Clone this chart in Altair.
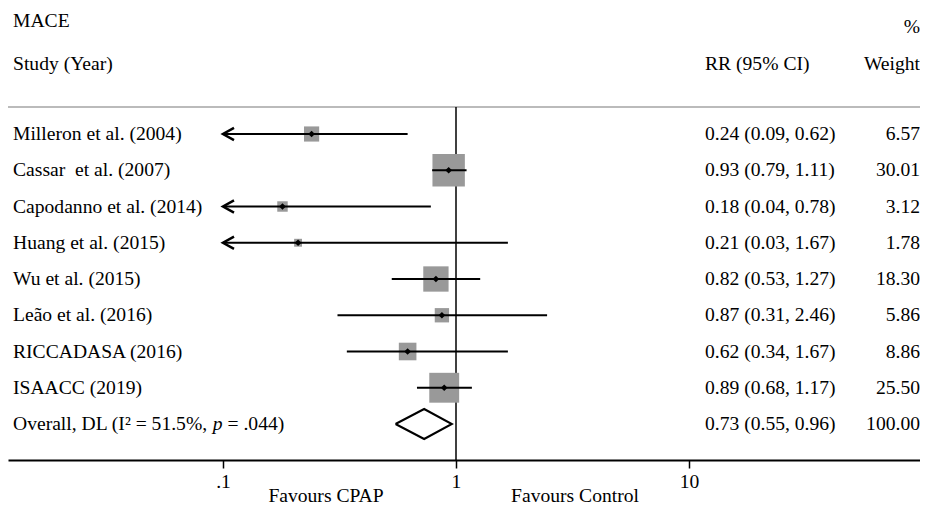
import altair as alt
import pandas as pd

# ---------------- data ----------------
studies = ["Milleron et al. (2004)", "Cassar\u00a0 et al. (2007)", "Capodanno et al. (2014)",
           "Huang et al. (2015)", "Wu et al. (2015)", "Leão et al. (2016)",
           "RICCADASA (2016)", "ISAACC (2019)"]
rr = [0.24, 0.93, 0.18, 0.21, 0.82, 0.87, 0.62, 0.89]
ci_low = [0.09, 0.79, 0.04, 0.03, 0.53, 0.31, 0.34, 0.68]
ci_high = [0.62, 1.11, 0.78, 1.67, 1.27, 2.46, 1.67, 1.17]
weights = [6.57, 30.01, 3.12, 1.78, 18.30, 5.86, 8.86, 25.50]

overall_rr = 0.73
overall_low = 0.55
overall_high = 0.96
overall_weight = 100.00
overall_label = "Overall, DL (I² = 51.5%, "
overall_p_label = "p"
overall_tail = "= .044)"

tick_values = [0.1, 1, 10]
tick_labels = [".1", "1", "10"]
axis_min_value = 0.1  # CIs below this are shown with an arrow

# ---------------- layout ----------------
FONT = "Liberation Serif"
FS = 19.6
W, H = 912, 452
ONE_PX, DECADE_PX = 448, 233
ROW0, ROWSTEP = 126, 36.25

x_scale = alt.Scale(type="log", nice=False,
                    domain=[10 ** (-ONE_PX / DECADE_PX), 10 ** ((W - ONE_PX) / DECADE_PX)])
y_scale = alt.Scale(domain=[-ROW0 / ROWSTEP, (H - ROW0) / ROWSTEP], reverse=True,
                    nice=False, zero=False)

label_expr = " : ".join(
    [f"datum.value == {v} ? '{l}'" for v, l in zip(tick_values, tick_labels)]) + " : ''"
x_axis = alt.Axis(values=tick_values, labelExpr=label_expr, grid=False,
                  domainColor="black", domainWidth=2, tickColor="black", tickWidth=1.5,
                  tickSize=8, labelFont=FONT, labelFontSize=FS, labelColor="black",
                  labelPadding=13, labelBaseline="middle", labelFlush=False,
                  labelOverlap=False, title=None)


def X(field):
    return alt.X(field, type="quantitative", scale=x_scale, axis=x_axis)


def Y(field):
    return alt.Y(field, type="quantitative", scale=y_scale, axis=None)


studies_df = pd.DataFrame({
    "study": studies, "rr": rr, "lo": ci_low, "hi": ci_high, "weight": weights,
    "row": list(range(len(studies))),
})
studies_df["ci_text"] = [f"{a:.2f} ({b:.2f}, {c:.2f})" for a, b, c in zip(rr, ci_low, ci_high)]
studies_df["w_text"] = [f"{w:.2f}" for w in weights]

overall_row = len(studies)
overall_df = pd.DataFrame({
    "row": [overall_row], "label": [overall_label],
    "ci_text": [f"{overall_rr:.2f} ({overall_low:.2f}, {overall_high:.2f})"],
    "w_text": [f"{overall_weight:.2f}"],
})

diamond_df = pd.DataFrame({
    "x": [overall_low, overall_rr, overall_high, overall_rr, overall_low],
    "y": [overall_row, overall_row - 15 / ROWSTEP, overall_row, overall_row + 15 / ROWSTEP, overall_row],
    "order": [0, 1, 2, 3, 4],
})

base = alt.Chart(studies_df)

squares = base.mark_square(color="#999999", opacity=1).transform_calculate(
    area="datum.weight * 35"
).encode(x=X("rr"), y=Y("row"), size=alt.Size("area:Q", scale=None))

ci_lines = base.mark_rule(color="black", strokeWidth=2).transform_calculate(
    lo_c=f"max(datum.lo, {axis_min_value})"
).encode(x=X("lo_c"), x2="hi:Q", y=Y("row"))

arrows = base.mark_point(shape="M2,-1.1L0,0L2,1.1", filled=False, color="black",
                         strokeWidth=2.5, size=121, opacity=1).transform_filter(
    f"datum.lo < {axis_min_value}"
).transform_calculate(ax=f"{axis_min_value}").encode(x=X("ax"), y=Y("row"))

centers = base.mark_point(shape="diamond", filled=True, color="black", size=45,
                          opacity=1).encode(x=X("rr"), y=Y("row"))

diamond = alt.Chart(diamond_df).mark_line(color="black", strokeWidth=2).encode(
    x=X("x"), y=Y("y"), order="order:Q")

null_line = alt.Chart(pd.DataFrame({"v": [1]})).mark_rule(
    color="black", strokeWidth=1.5).encode(x=X("v"), y=alt.value(99), y2=alt.value(H))

header_line = alt.Chart(pd.DataFrame({"a": [0]})).mark_rule(
    color="#bbbbbb", strokeWidth=2).encode(x=alt.value(0), x2=alt.value(W), y=alt.value(99))


def txt(data, field, x, align="left", **kw):
    return alt.Chart(data).mark_text(font=FONT, fontSize=FS, color="black", align=align,
                                     baseline="middle", **kw).encode(
        x=alt.value(x), y=Y("row"), text=f"{field}:N")


def header(text, x, y, align="left"):
    return alt.Chart(pd.DataFrame({"t": [text]})).mark_text(
        font=FONT, fontSize=FS, color="black", align=align, baseline="middle").encode(
        x=alt.value(x), y=alt.value(y), text="t:N")


p_df = pd.DataFrame({"row": [overall_row], "t": [overall_p_label]})
tail_df = pd.DataFrame({"row": [overall_row], "t": [overall_tail]})
P_X = 5 + 10.195 * FS
TAIL_X = P_X + 0.75 * FS

layers = [
    header_line, null_line, squares, ci_lines, arrows, centers, diamond,
    txt(studies_df, "study", 5),
    txt(studies_df, "ci_text", 697),
    txt(studies_df, "w_text", W, align="right"),
    txt(overall_df, "label", 5),
    txt(p_df, "t", P_X, fontStyle="italic"),
    txt(tail_df, "t", TAIL_X),
    txt(overall_df, "ci_text", 697),
    txt(overall_df, "w_text", W, align="right"),
    header("MACE", 5, 13),
    header("Study (Year)", 5, 56),
    header("%", W, 19, align="right"),
    header("RR (95% CI)", 697, 56),
    header("Weight", W, 56, align="right"),
    header("Favours CPAP", 318, 488, align="center"),
    header("Favours Control", 567, 488, align="center"),
]

chart = alt.layer(*layers).properties(
    width=W, height=H,
    autosize=alt.AutoSizeParams(type="none"),
    padding={"left": 0, "top": 0, "right": 0, "bottom": 48},
).configure_view(stroke=None)

chart.save("out.html", embed_options={"renderer": "svg", "actions": False})
